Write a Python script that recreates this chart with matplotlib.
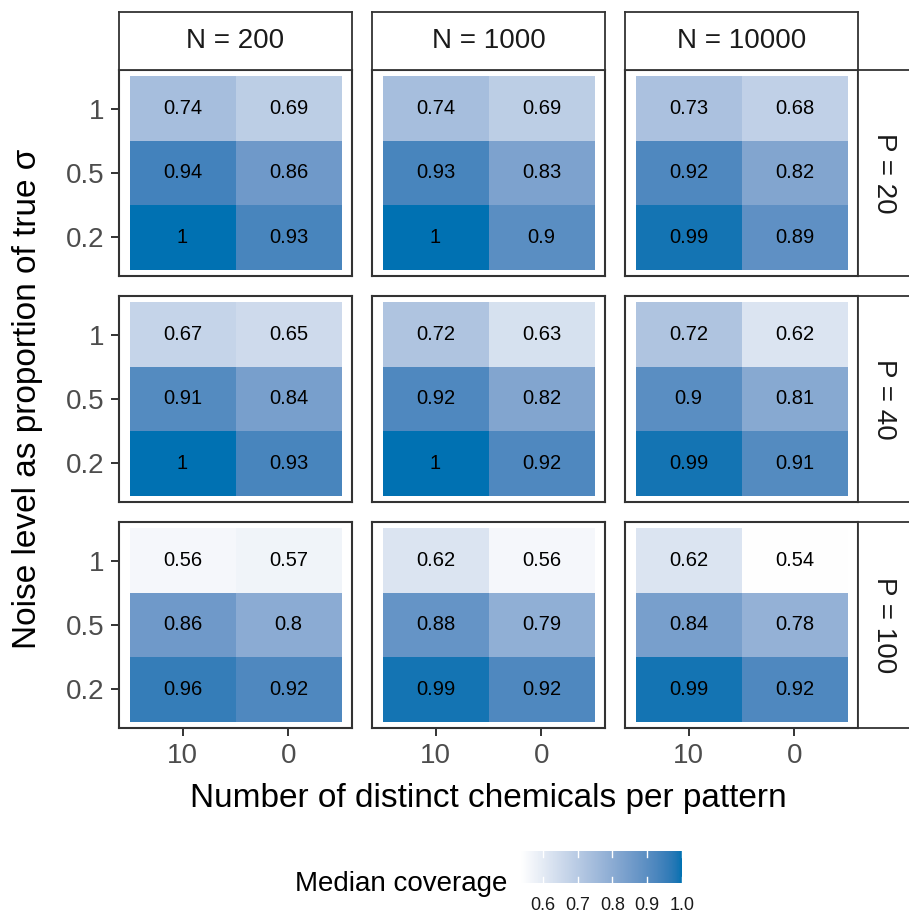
import numpy as np
import matplotlib
matplotlib.use("Agg")
import matplotlib.pyplot as plt
from matplotlib.colors import ListedColormap, Normalize
from matplotlib.patches import Rectangle

plt.rcParams['font.family'] = ['Liberation Sans', 'DejaVu Sans']

# ---------------- data ----------------
n_levels = ["N = 200", "N = 1000", "N = 10000"]
p_levels = ["P = 20", "P = 40", "P = 100"]
chem_labels = ["10", "0"]
noise_labels = ["0.2", "0.5", "1"]

# rows = noise level (0.2, 0.5, 1); columns = chemicals (10, 0)
cov_p20_n200 = [[1.00, 0.93], [0.94, 0.86], [0.74, 0.69]]
cov_p20_n1000 = [[1.00, 0.90], [0.93, 0.83], [0.74, 0.69]]
cov_p20_n10000 = [[0.99, 0.89], [0.92, 0.82], [0.73, 0.68]]
cov_p40_n200 = [[1.00, 0.93], [0.91, 0.84], [0.67, 0.65]]
cov_p40_n1000 = [[1.00, 0.92], [0.92, 0.82], [0.72, 0.63]]
cov_p40_n10000 = [[0.99, 0.91], [0.90, 0.81], [0.72, 0.62]]
cov_p100_n200 = [[0.96, 0.92], [0.86, 0.80], [0.56, 0.57]]
cov_p100_n1000 = [[0.99, 0.92], [0.88, 0.79], [0.62, 0.56]]
cov_p100_n10000 = [[0.99, 0.92], [0.84, 0.78], [0.62, 0.54]]

coverage = [
    [cov_p20_n200, cov_p20_n1000, cov_p20_n10000],
    [cov_p40_n200, cov_p40_n1000, cov_p40_n10000],
    [cov_p100_n200, cov_p100_n1000, cov_p100_n10000],
]
legend_ticks = [0.6, 0.7, 0.8, 0.9, 1.0]
vmin, vmax = 0.537, 1.0

# ---------------- colour scale (Lab interpolation, white -> #0072B2) ----------------
def srgb_to_lab(rgb):
    rgb = np.asarray(rgb, float)
    lin = np.where(rgb <= 0.04045, rgb / 12.92, ((rgb + 0.055) / 1.055) ** 2.4)
    M = np.array([[0.4124564, 0.3575761, 0.1804375],
                  [0.2126729, 0.7151522, 0.0721750],
                  [0.0193339, 0.1191920, 0.9503041]])
    xyz = M @ lin
    wp = np.array([0.95047, 1.0, 1.08883])
    t = xyz / wp
    f = np.where(t > (6 / 29) ** 3, np.cbrt(t), t / (3 * (6 / 29) ** 2) + 4 / 29)
    return np.array([116 * f[1] - 16, 500 * (f[0] - f[1]), 200 * (f[1] - f[2])])

def lab_to_srgb(lab):
    L, a, b = lab
    fy = (L + 16) / 116
    fx = fy + a / 500
    fz = fy - b / 200
    def finv(f):
        return np.where(f > 6 / 29, f ** 3, 3 * (6 / 29) ** 2 * (f - 4 / 29))
    wp = np.array([0.95047, 1.0, 1.08883])
    xyz = wp * np.array([finv(fx), finv(fy), finv(fz)])
    Minv = np.array([[3.2404542, -1.5371385, -0.4985314],
                     [-0.9692660, 1.8760108, 0.0415560],
                     [0.0556434, -0.2040259, 1.0572252]])
    lin = Minv @ xyz
    lin = np.clip(lin, 0, 1)
    rgb = np.where(lin <= 0.0031308, 12.92 * lin, 1.055 * lin ** (1 / 2.4) - 0.055)
    return np.clip(rgb, 0, 1)

low = srgb_to_lab([1, 1, 1])
high = srgb_to_lab(np.array([0, 114, 178]) / 255)
cols = [lab_to_srgb(low + (high - low) * t) for t in np.linspace(0, 1, 256)]
cmap = ListedColormap(cols)
norm = Normalize(vmin, vmax)

# ---------------- layout (pixels) ----------------
W, H = 909, 913
fig = plt.figure(figsize=(W / 100, H / 100), dpi=100)

def ax_px(x0, y0, x1, y1):
    return fig.add_axes([x0 / W, 1 - y1 / H, (x1 - x0) / W, (y1 - y0) / H])

col_x = [119, 372, 625]
pw = 233
row_y = [70, 296, 522]
ph = 206
border = '#333333'

for r in range(3):
    for c in range(3):
        x0, y0 = col_x[c], row_y[r]
        ax = ax_px(x0, y0, x0 + pw, y0 + ph)
        vals = np.array(coverage[r][c])
        ax.imshow(vals, cmap=cmap, norm=norm, origin='lower', aspect='auto',
                  extent=(0.5, 2.5, 0.5, 3.5), interpolation='nearest')
        for i in range(3):
            for j in range(2):
                ax.text(j + 1, i + 1, f"{vals[i][j]:g}", ha='center', va='center',
                        fontsize=14.5, color='black')
        ax.set_xlim(0.4, 2.6)
        ax.set_ylim(0.4, 3.6)
        for s in ax.spines.values():
            s.set_color(border)
            s.set_linewidth(1.5)
        ax.set_xticks([1, 2])
        ax.set_yticks([1, 2, 3])
        ax.tick_params(length=5.5, width=1.4, color=border, labelsize=20,
                       labelcolor='#4D4D4D', pad=5)
        if c == 0:
            ax.set_yticklabels(noise_labels)
        else:
            ax.tick_params(axis='y', left=False, labelleft=False)
        if r == 2:
            ax.set_xticklabels(chem_labels)
        else:
            ax.tick_params(axis='x', bottom=False, labelbottom=False)

        # top strip
        if r == 0:
            sax = ax_px(x0, 12, x0 + pw, 70)
            sax.set_xticks([]); sax.set_yticks([])
            for s in sax.spines.values():
                s.set_color(border); s.set_linewidth(1.3)
            sax.text(0.5, 0.5, n_levels[c], ha='center', va='center',
                     fontsize=20, color='#1A1A1A', transform=sax.transAxes)
        # right strip
        if c == 2:
            sax = ax_px(x0 + pw, y0, x0 + pw + 52, y0 + ph)
            sax.set_xticks([]); sax.set_yticks([])
            for s in sax.spines.values():
                s.set_color(border); s.set_linewidth(1.3)
            sax.text(0.5, 0.5, p_levels[r], ha='center', va='center', rotation=-90,
                     fontsize=20, color='#1A1A1A', transform=sax.transAxes)

# axis titles
fig.text(28 / W, 1 - 399 / H, "Noise level as proportion of true σ", rotation=90,
         ha='center', va='center', fontsize=24, color='black')
fig.text(488 / W, 1 - 807 / H, "Number of distinct chemicals per pattern",
         ha='center', va='baseline', fontsize=24, color='black')

# legend colorbar
cax = ax_px(521, 851, 684, 883)
grad = np.linspace(vmin, vmax, 300).reshape(1, -1)
cax.imshow(grad, cmap=cmap, norm=norm, aspect='auto', extent=(vmin, vmax, 0, 1),
           interpolation='bilinear')
cax.set_xlim(vmin, vmax + 0.006)
cax.set_ylim(0, 1)
for s in cax.spines.values():
    s.set_visible(False)
cax.set_yticks([])
cax.set_xticks([])
for t in legend_ticks:
    cax.plot([t, t], [0, 0.2], color='white', lw=1.0)
    cax.plot([t, t], [0.8, 1.0], color='white', lw=1.0)
    fig.text((521 + (t - vmin) / (vmax + 0.006 - vmin) * 163) / W, 1 - 905 / H,
             f"{t:.1f}", ha='center', va='center', fontsize=13, color='#1A1A1A')
fig.text(507 / W, 1 - 884 / H, "Median coverage", ha='right', va='center',
         fontsize=20, color='black')

fig.savefig("out.png", dpi=100, facecolor='white')
